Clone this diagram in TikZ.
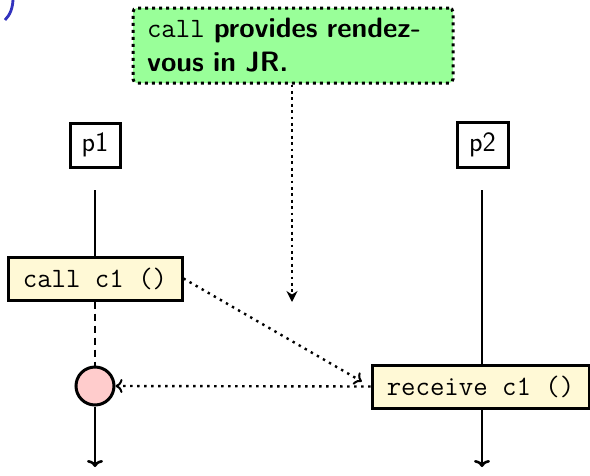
\documentclass[tikz,border=0pt]{standalone}
\usepackage{fontspec}
\usetikzlibrary{arrows.meta}
\definecolor{notegreen}{RGB}{153,255,153}
\definecolor{stmtfill}{RGB}{255,249,214}
\definecolor{joinfill}{RGB}{255,204,204}
\definecolor{markblue}{RGB}{50,50,190}
\tikzset{
  procbox/.style={draw, line width=3pt, font=\fontsize{28}{34}\selectfont\sffamily, inner sep=0pt},
  stmtbox/.style={draw, line width=3pt, fill=stmtfill, inner sep=0pt,
    font=\fontsize{28}{34}\selectfont\ttfamily},
  notebox/.style={draw, line width=3pt, dash pattern=on 3pt off 4pt, fill=notegreen,
    rounded corners=4pt, minimum width=320pt, minimum height=75pt, inner sep=0pt,
    text width=292pt, align=left, font=\fontsize{28}{34}\selectfont\sffamily\bfseries},
  lifeline/.style={line width=2.6pt},
  headlife/.style={-{To[length=7pt,width=16pt,line width=2.6pt]}},
  msg/.style={line width=2.4pt, dash pattern=on 2.4pt off 4.6pt, -{To[length=7pt,width=14pt,line width=2pt]}},
  hint/.style={line width=2.8pt, dash pattern=on 2.8pt off 3.6pt, -{Stealth[length=11pt,width=11pt]}},
}
\begin{document}
\begin{tikzpicture}[x=1pt,y=-1pt]
\useasboundingbox (0,0) rectangle (590,475);

% clipped bracket at the corner
\draw[markblue, line width=2.8pt] (13,-2) .. controls (13,8) and (10,15) .. (5,20);

% explanatory note
\node[notebox] (note) at (293,45.5)
  {{\mdseries\ttfamily call} provides rendez-\\vous in JR.};
\coordinate (hintend) at (292,302);
\draw[hint] (note.south -| hintend) -- (hintend);

% processes
\node[procbox, minimum width=50pt, minimum height=44pt] (p1) at (95,145) {p1};
\node[procbox, minimum width=51pt, minimum height=45pt] (p2) at (482.5,144.5) {p2};

% statements
\node[stmtbox, minimum width=174pt, minimum height=43pt] (call) at (95,278.5) {call c1 ()};
\node[stmtbox, minimum width=217pt, minimum height=43pt] (recv) at (480.5,386.5) {receive c1 ()};
\node[draw, circle, line width=3pt, fill=joinfill, minimum size=38pt, inner sep=0pt] (join) at (95,386) {};

% life lines
\coordinate (top1) at (95,190);
\coordinate (end1) at (95,467);
\coordinate (top2) at (482,190);
\coordinate (end2) at (482,467);
\draw[lifeline] (top1) -- (call.north);
\draw[lifeline, dash pattern=on 7pt off 5pt] (call.south) -- (join.north);
\draw[lifeline, headlife] (join.south) -- (end1);
\draw[lifeline] (top2) -- (top2 |- recv.north);
\draw[lifeline, headlife] (top2 |- recv.south) -- (end2);

% messages
\draw[msg, shorten >=10pt] (call.east) -- (recv.west);
\draw[msg] (recv.west) -- (join.east);
\end{tikzpicture}
\end{document}
